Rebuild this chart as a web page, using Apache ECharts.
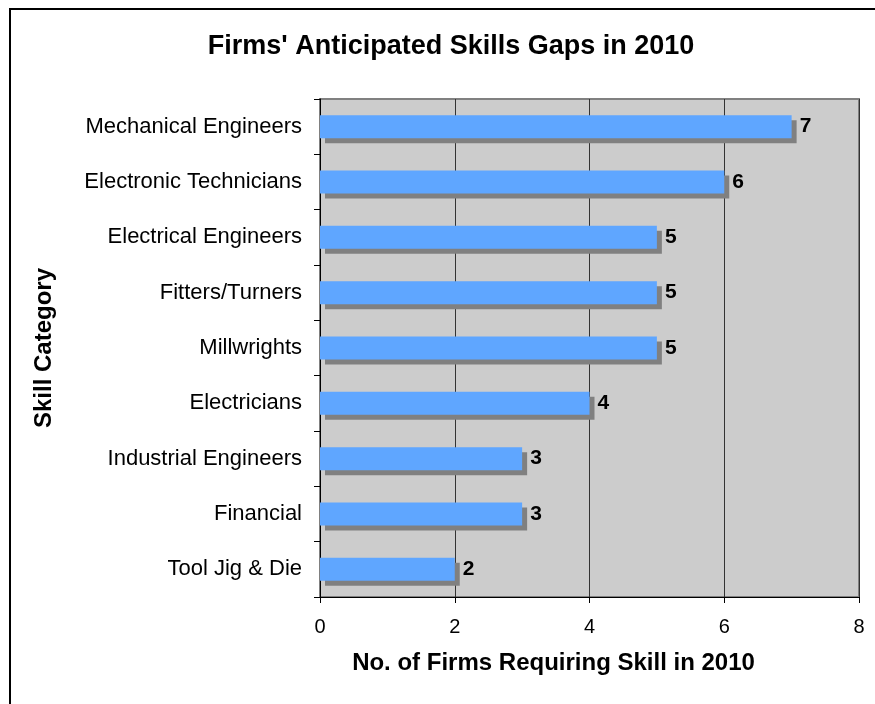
<!DOCTYPE html>
<html>
<head>
<meta charset="utf-8">
<script src="https://cdn.jsdelivr.net/npm/echarts@6/dist/echarts.min.js"></script>
<style>
  html, body { margin: 0; padding: 0; background: #ffffff; }
  #chart { width: 875px; height: 704px; }
</style>
</head>
<body>
<div id="chart"></div>
<script>
// Skill categories, listed top to bottom
const categories = [
  'Mechanical Engineers',
  'Electronic Technicians',
  'Electrical Engineers',
  'Fitters/Turners',
  'Millwrights',
  'Electricians',
  'Industrial Engineers',
  'Financial',
  'Tool Jig & Die'
];
// Number of firms requiring each skill
const firmCounts = [7, 6, 5, 5, 5, 4, 3, 3, 2];
// X axis range and step
const xMin = 0;
const xMax = 8;
const xStep = 2;

const FONT = '"Liberation Sans", Arial, sans-serif';

const chart = echarts.init(document.getElementById('chart'), null, { renderer: 'canvas' });

chart.setOption({
  backgroundColor: '#ffffff',
  animation: false,
  textStyle: { fontFamily: FONT },
  graphic: [
    {
      // chart frame
      type: 'rect',
      shape: { x: 10, y: 9, width: 900, height: 720 },
      style: { fill: 'none', stroke: '#000000', lineWidth: 2 },
      silent: true,
      z: 100
    },
    {
      // chart title
      type: 'text',
      x: 451,
      y: 47,
      style: {
        text: "Firms' Anticipated Skills Gaps in 2010",
        fontFamily: FONT,
        fontSize: 27,
        fontWeight: 'bold',
        fill: '#000000',
        align: 'center',
        verticalAlign: 'middle'
      },
      silent: true
    }
  ],
  grid: {
    left: 320,
    top: 99,
    width: 539,
    height: 498,
    show: true,
    backgroundColor: '#cccccc',
    borderColor: '#808080',
    borderWidth: 2
  },
  xAxis: {
    type: 'value',
    min: xMin,
    max: xMax,
    interval: xStep,
    name: 'No. of Firms Requiring Skill in 2010',
    nameLocation: 'middle',
    nameGap: 54,
    nameTextStyle: {
      fontFamily: FONT, fontSize: 24, fontWeight: 'bold', color: '#000000',
      padding: [0, 72, 0, 0]
    },
    axisLine: { show: true, lineStyle: { color: '#000000', width: 1 } },
    axisTick: { show: true, inside: false, length: 6, lineStyle: { color: '#000000' } },
    axisLabel: { margin: 20, fontSize: 20, color: '#000000', fontFamily: FONT },
    splitLine: { show: true, lineStyle: { color: '#333333', width: 1 } }
  },
  yAxis: {
    type: 'category',
    data: categories,
    inverse: true,
    name: 'Skill Category',
    nameLocation: 'middle',
    nameGap: 264,
    nameTextStyle: { fontFamily: FONT, fontSize: 24, fontWeight: 'bold', color: '#000000' },
    axisLine: { show: true, lineStyle: { color: '#000000', width: 1 } },
    axisTick: { show: true, inside: false, length: 6, alignWithLabel: false, lineStyle: { color: '#000000' } },
    axisLabel: { margin: 18, fontSize: 22, color: '#000000', fontFamily: FONT },
    splitLine: { show: false }
  },
  series: [{
    type: 'bar',
    data: firmCounts,
    barWidth: 23,
    itemStyle: {
      color: '#5fa6ff',
      shadowColor: '#808080',
      shadowBlur: 0,
      shadowOffsetX: 5,
      shadowOffsetY: 5
    },
    label: {
      show: true,
      position: 'right',
      distance: 8,
      fontFamily: FONT,
      fontSize: 21,
      fontWeight: 'bold',
      color: '#000000'
    }
  }]
});
</script>
</body>
</html>
